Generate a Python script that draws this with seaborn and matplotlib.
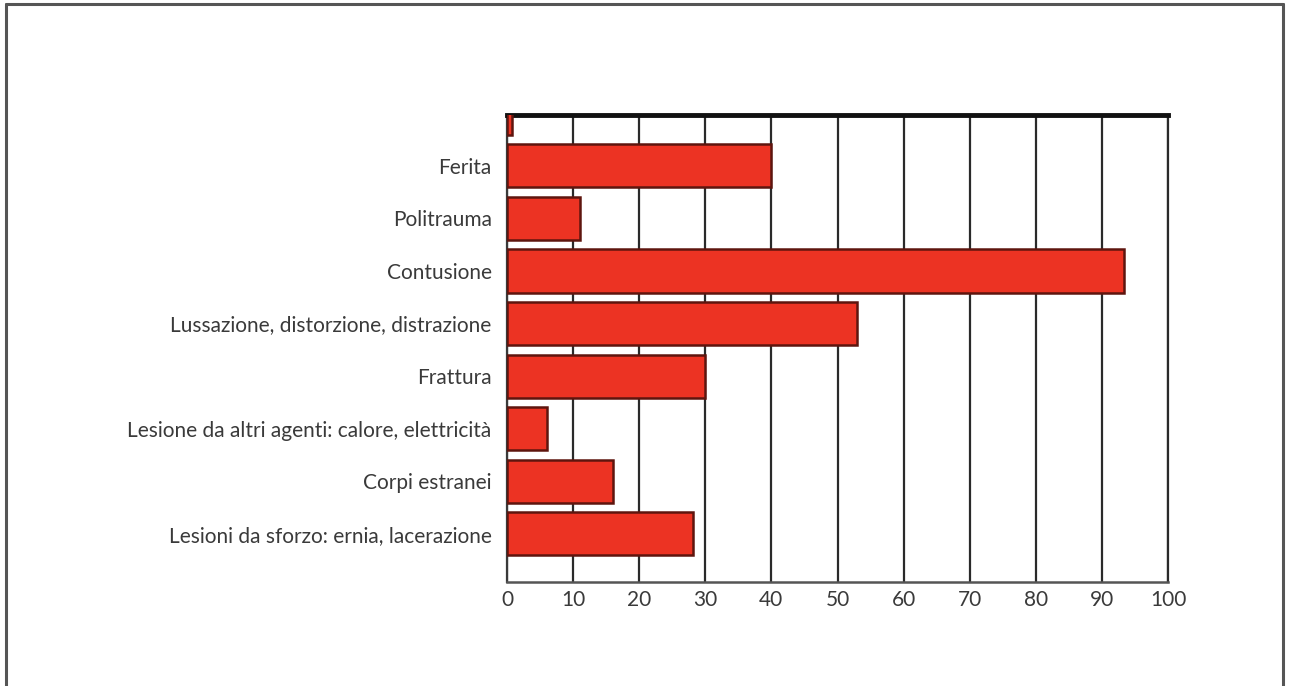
import matplotlib
matplotlib.use("Agg")
import matplotlib.pyplot as plt
from matplotlib.lines import Line2D
import pandas as pd
import seaborn as sns

# Injury categories (the first row carries no label) and their values
categories = [
    "",
    "Ferita",
    "Politrauma",
    "Contusione",
    "Lussazione, distorzione, distrazione",
    "Frattura",
    "Lesione da altri agenti: calore, elettricità",
    "Corpi estranei",
    "Lesioni da sforzo: ernia, lacerazione",
]
values = [0.8, 40, 11, 93.4, 53, 30, 6, 16, 28.2]
x_ticks = [0, 10, 20, 30, 40, 50, 60, 70, 80, 90, 100]

df = pd.DataFrame({"categoria": categories, "valore": values})

sns.set_theme(style="white")
plt.rcParams["font.family"] = ["Lato", "DejaVu Sans"]

fig = plt.figure(figsize=(12.9, 6.86), dpi=100)
ax = fig.add_axes([507 / 1290, 1 - 582 / 686, 661 / 1290, 467 / 686])

sns.barplot(
    data=df, x="valore", y="categoria", order=categories, orient="h",
    color="#ec3323", saturation=1, width=0.82,
    edgecolor="#5e150e", linewidth=1.8, ax=ax, zorder=3,
)

ax.set_xlim(0, 100)
ax.set_ylim(8.92, 0.03)
ax.set_xticks(x_ticks)
ax.set_xticklabels([str(t) for t in x_ticks])
ax.set_xlabel("")
ax.set_ylabel("")

# vertical grid lines every 10 units
ax.grid(axis="x", color="#2a2a2a", linewidth=1.6, zorder=1)
ax.grid(axis="y", visible=False)
ax.set_axisbelow(True)

ax.tick_params(axis="both", length=0, labelcolor="#3a3a3a")
ax.tick_params(axis="x", pad=6, labelsize=15)
ax.tick_params(axis="y", pad=11, labelsize=15)

for side in ("left", "right", "bottom", "top"):
    ax.spines[side].set_visible(True)
ax.spines["top"].set_color("#111111")
ax.spines["top"].set_linewidth(3.5)
ax.spines["bottom"].set_color("#555555")
ax.spines["bottom"].set_linewidth(1.8)
ax.spines["left"].set_color("#3a3a3a")
ax.spines["left"].set_linewidth(1.6)
ax.spines["right"].set_color("#2a2a2a")
ax.spines["right"].set_linewidth(1.6)

# open frame around the figure (left, top and right sides)
frame_kw = dict(color="#555555", linewidth=2.2, transform=fig.transFigure)
x0, x1, ytop = 6 / 1290, 1283 / 1290, 1 - 4 / 686
fig.add_artist(Line2D([x0, x0], [0, ytop], **frame_kw))
fig.add_artist(Line2D([x0, x1], [ytop, ytop], **frame_kw))
fig.add_artist(Line2D([x1, x1], [0, ytop], **frame_kw))

fig.savefig("out.png", dpi=100)
